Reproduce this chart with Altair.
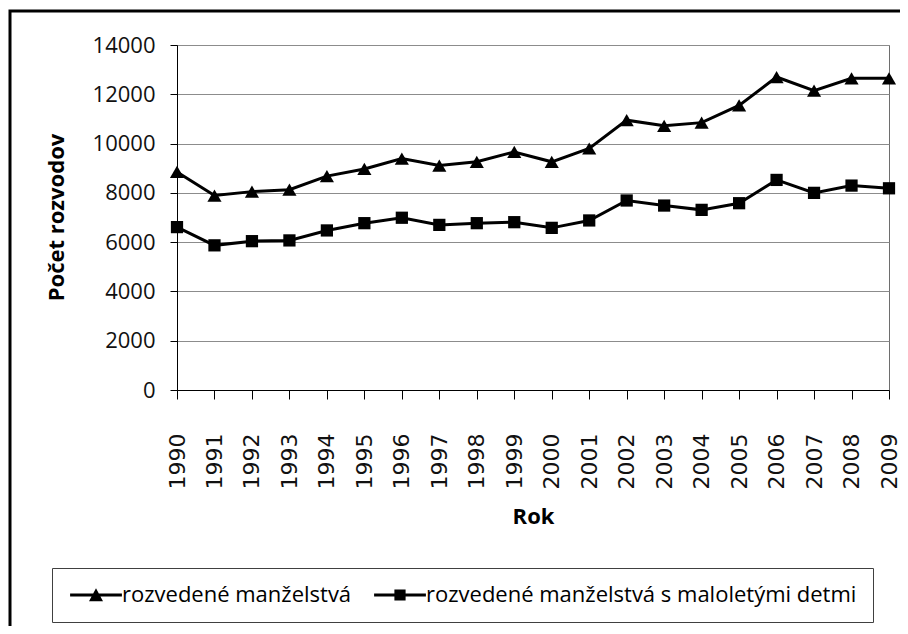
import altair as alt
import pandas as pd

years = [1990, 1991, 1992, 1993, 1994, 1995, 1996, 1997, 1998, 1999,
         2000, 2001, 2002, 2003, 2004, 2005, 2006, 2007, 2008, 2009]
series_names = ["rozvedené manželstvá", "rozvedené manželstvá s maloletými detmi"]
rozvedene = [8850, 7890, 8050, 8130, 8680, 8970, 9390, 9110, 9260, 9660,
             9260, 9800, 10950, 10720, 10850, 11550, 12700, 12150, 12650, 12650]
s_detmi = [6610, 5870, 6040, 6070, 6475, 6770, 6990, 6700, 6770, 6810,
           6580, 6880, 7690, 7485, 7310, 7580, 8525, 8000, 8295, 8185]
y_ticks = [0, 2000, 4000, 6000, 8000, 10000, 12000, 14000]

rows = []
for i, yr in enumerate(years):
    rows.append({"rok": yr, "pocet": rozvedene[i], "typ": series_names[0]})
    rows.append({"rok": yr, "pocet": s_detmi[i], "typ": series_names[1]})
df = pd.DataFrame(rows)

x = alt.X("rok:O", scale=alt.Scale(type="point", padding=0),
          axis=alt.Axis(title="Rok", labelAngle=270, labelFont="DejaVu Sans", labelFontSize=22,
                        labelColor="#111", labelPadding=34, tickSize=9, tickColor="#000",
                        domainColor="#000", grid=False,
                        titleFont="Open Sans", titleFontSize=22, titleFontWeight="bold",
                        titleColor="#000", titleX=356, titleY=133, titleAlign="center",
                        titleBaseline="alphabetic"))
y = alt.Y("pocet:Q", scale=alt.Scale(domain=[0, 14000], nice=False),
          axis=alt.Axis(title="Počet rozvodov", values=y_ticks, format="d", labelFont="Open Sans",
                        labelFontSize=22, labelColor="#111", labelPadding=15, tickSize=7,
                        tickColor="#000", domainColor="#000", grid=True, gridColor="#8c8c8c",
                        gridWidth=1, titleFont="Open Sans", titleFontSize=22,
                        titleFontWeight="bold", titleColor="#000", titleAngle=270,
                        titleX=-114, titleY=172, titleAlign="center",
                        titleBaseline="alphabetic"))

base = alt.Chart(df)

lines = base.mark_line(color="black", strokeWidth=3).encode(x=x, y=y, detail="typ:N")

tri_points = base.transform_filter(alt.datum.typ == series_names[0]).mark_point(
    filled=True, color="black", opacity=1, shape="triangle-up", size=200).encode(x=x, y=y)
sq_points = base.transform_filter(alt.datum.typ == series_names[1]).mark_point(
    filled=True, color="black", opacity=1, shape="square", size=150).encode(x=x, y=y)

tri_path = "M-3.7,-0.21H3.7V0.21H-3.7Z M0,-0.95L1,0.9L-1,0.9Z"
sq_path = "M-3.7,-0.21H3.7V0.21H-3.7Z M-0.8,-0.8H0.8V0.8H-0.8Z"

legend_layer = base.mark_point(filled=True, color="black", opacity=0).encode(
    x=x, y=y,
    shape=alt.Shape("typ:N", scale=alt.Scale(domain=series_names, range=[tri_path, sq_path]),
                    legend=alt.Legend(title=None, orient="none", legendX=-125, legendY=523,
                                      direction="horizontal", padding=16,
                                      strokeColor="#404040", fillColor="white",
                                      labelFont="Open Sans", labelFontSize=22,
                                      labelColor="#000", labelLimit=600,
                                      symbolSize=196, symbolOffset=17, labelOffset=15,
                                      columnPadding=20, symbolOpacity=1,
                                      symbolStrokeWidth=0,
                                      symbolFillColor="black")))

frame = alt.Chart(pd.DataFrame({"a": [0]})).mark_rect(
    fill="transparent", stroke="black", strokeWidth=3).encode(
    x=alt.value(-167), x2=alt.value(745), y=alt.value(-34), y2=alt.value(600))

chart = alt.layer(frame, lines, tri_points, sq_points, legend_layer).properties(
    width=712, height=345,
    autosize=alt.AutoSizeParams(type="none"),
    padding={"left": 169, "top": 37, "right": 11, "bottom": 236},
    background="white"
).configure_view(stroke="#6e6e6e", strokeWidth=1)

chart.save("out.html", embed_options={"renderer": "svg", "actions": False})
